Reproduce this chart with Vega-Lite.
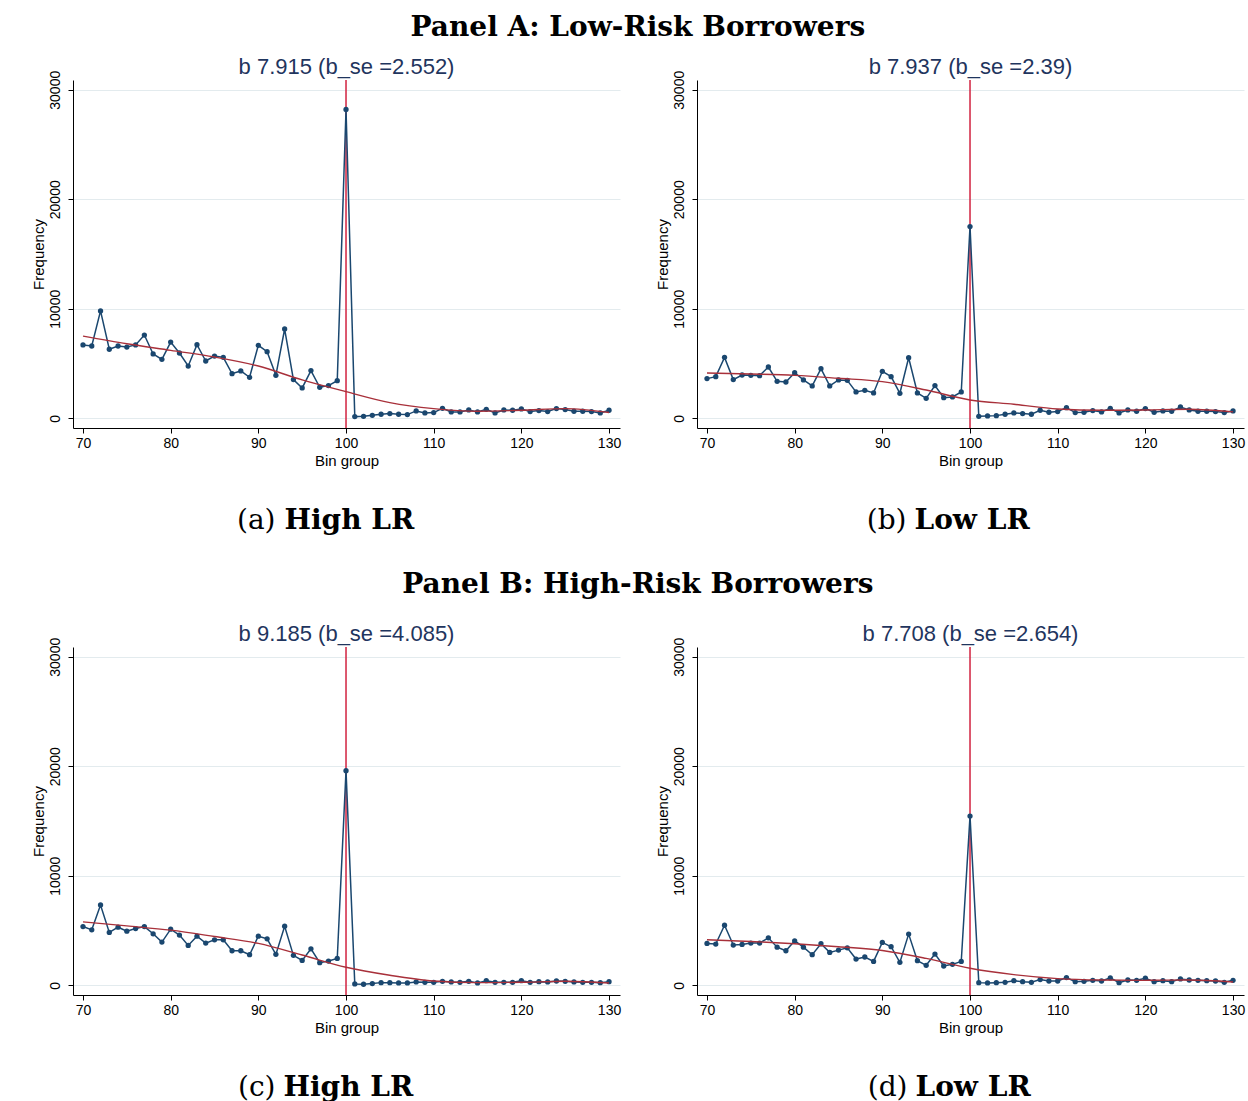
{
  "$schema": "https://vega.github.io/schema/vega-lite/v6.json",
  "background": "white",
  "padding": {"left": 30, "top": 14, "right": 2, "bottom": 0},
  "spacing": 35,
  "datasets": {
    "freq": [
      {"p":"a","bin":70,"freq":6700},{"p":"a","bin":71,"freq":6600},{"p":"a","bin":72,"freq":9800},{"p":"a","bin":73,"freq":6300},{"p":"a","bin":74,"freq":6600},{"p":"a","bin":75,"freq":6500},{"p":"a","bin":76,"freq":6700},{"p":"a","bin":77,"freq":7600},{"p":"a","bin":78,"freq":5870},{"p":"a","bin":79,"freq":5380},{"p":"a","bin":80,"freq":6960},{"p":"a","bin":81,"freq":5960},{"p":"a","bin":82,"freq":4770},{"p":"a","bin":83,"freq":6720},{"p":"a","bin":84,"freq":5230},{"p":"a","bin":85,"freq":5680},{"p":"a","bin":86,"freq":5560},{"p":"a","bin":87,"freq":4070},{"p":"a","bin":88,"freq":4320},{"p":"a","bin":89,"freq":3740},{"p":"a","bin":90,"freq":6660},{"p":"a","bin":91,"freq":6080},{"p":"a","bin":92,"freq":3920},{"p":"a","bin":93,"freq":8150},{"p":"a","bin":94,"freq":3530},{"p":"a","bin":95,"freq":2770},{"p":"a","bin":96,"freq":4350},{"p":"a","bin":97,"freq":2830},{"p":"a","bin":98,"freq":2980},{"p":"a","bin":99,"freq":3430},{"p":"a","bin":100,"freq":28200},{"p":"a","bin":101,"freq":150},{"p":"a","bin":102,"freq":180},{"p":"a","bin":103,"freq":270},{"p":"a","bin":104,"freq":365},{"p":"a","bin":105,"freq":425},{"p":"a","bin":106,"freq":365},{"p":"a","bin":107,"freq":335},{"p":"a","bin":108,"freq":670},{"p":"a","bin":109,"freq":490},{"p":"a","bin":110,"freq":520},{"p":"a","bin":111,"freq":910},{"p":"a","bin":112,"freq":580},{"p":"a","bin":113,"freq":580},{"p":"a","bin":114,"freq":760},{"p":"a","bin":115,"freq":580},{"p":"a","bin":116,"freq":820},{"p":"a","bin":117,"freq":490},{"p":"a","bin":118,"freq":760},{"p":"a","bin":119,"freq":730},{"p":"a","bin":120,"freq":850},{"p":"a","bin":121,"freq":610},{"p":"a","bin":122,"freq":700},{"p":"a","bin":123,"freq":610},{"p":"a","bin":124,"freq":880},{"p":"a","bin":125,"freq":790},{"p":"a","bin":126,"freq":640},{"p":"a","bin":127,"freq":640},{"p":"a","bin":128,"freq":610},{"p":"a","bin":129,"freq":490},{"p":"a","bin":130,"freq":730},
      {"p":"b","bin":70,"freq":3620},{"p":"b","bin":71,"freq":3800},{"p":"b","bin":72,"freq":5560},{"p":"b","bin":73,"freq":3530},{"p":"b","bin":74,"freq":3950},{"p":"b","bin":75,"freq":3920},{"p":"b","bin":76,"freq":3890},{"p":"b","bin":77,"freq":4680},{"p":"b","bin":78,"freq":3370},{"p":"b","bin":79,"freq":3310},{"p":"b","bin":80,"freq":4160},{"p":"b","bin":81,"freq":3500},{"p":"b","bin":82,"freq":2950},{"p":"b","bin":83,"freq":4530},{"p":"b","bin":84,"freq":2950},{"p":"b","bin":85,"freq":3500},{"p":"b","bin":86,"freq":3460},{"p":"b","bin":87,"freq":2400},{"p":"b","bin":88,"freq":2550},{"p":"b","bin":89,"freq":2310},{"p":"b","bin":90,"freq":4290},{"p":"b","bin":91,"freq":3800},{"p":"b","bin":92,"freq":2280},{"p":"b","bin":93,"freq":5530},{"p":"b","bin":94,"freq":2310},{"p":"b","bin":95,"freq":1820},{"p":"b","bin":96,"freq":2980},{"p":"b","bin":97,"freq":1880},{"p":"b","bin":98,"freq":1950},{"p":"b","bin":99,"freq":2400},{"p":"b","bin":100,"freq":17500},{"p":"b","bin":101,"freq":180},{"p":"b","bin":102,"freq":210},{"p":"b","bin":103,"freq":240},{"p":"b","bin":104,"freq":365},{"p":"b","bin":105,"freq":490},{"p":"b","bin":106,"freq":425},{"p":"b","bin":107,"freq":365},{"p":"b","bin":108,"freq":730},{"p":"b","bin":109,"freq":550},{"p":"b","bin":110,"freq":610},{"p":"b","bin":111,"freq":970},{"p":"b","bin":112,"freq":520},{"p":"b","bin":113,"freq":550},{"p":"b","bin":114,"freq":700},{"p":"b","bin":115,"freq":580},{"p":"b","bin":116,"freq":910},{"p":"b","bin":117,"freq":490},{"p":"b","bin":118,"freq":760},{"p":"b","bin":119,"freq":640},{"p":"b","bin":120,"freq":880},{"p":"b","bin":121,"freq":550},{"p":"b","bin":122,"freq":670},{"p":"b","bin":123,"freq":640},{"p":"b","bin":124,"freq":1030},{"p":"b","bin":125,"freq":760},{"p":"b","bin":126,"freq":640},{"p":"b","bin":127,"freq":640},{"p":"b","bin":128,"freq":610},{"p":"b","bin":129,"freq":520},{"p":"b","bin":130,"freq":670},
      {"p":"c","bin":70,"freq":5360},{"p":"c","bin":71,"freq":5060},{"p":"c","bin":72,"freq":7330},{"p":"c","bin":73,"freq":4820},{"p":"c","bin":74,"freq":5300},{"p":"c","bin":75,"freq":4940},{"p":"c","bin":76,"freq":5180},{"p":"c","bin":77,"freq":5360},{"p":"c","bin":78,"freq":4700},{"p":"c","bin":79,"freq":3940},{"p":"c","bin":80,"freq":5120},{"p":"c","bin":81,"freq":4580},{"p":"c","bin":82,"freq":3640},{"p":"c","bin":83,"freq":4480},{"p":"c","bin":84,"freq":3850},{"p":"c","bin":85,"freq":4150},{"p":"c","bin":86,"freq":4150},{"p":"c","bin":87,"freq":3150},{"p":"c","bin":88,"freq":3150},{"p":"c","bin":89,"freq":2790},{"p":"c","bin":90,"freq":4480},{"p":"c","bin":91,"freq":4240},{"p":"c","bin":92,"freq":2820},{"p":"c","bin":93,"freq":5390},{"p":"c","bin":94,"freq":2730},{"p":"c","bin":95,"freq":2270},{"p":"c","bin":96,"freq":3330},{"p":"c","bin":97,"freq":2060},{"p":"c","bin":98,"freq":2210},{"p":"c","bin":99,"freq":2450},{"p":"c","bin":100,"freq":19600},{"p":"c","bin":101,"freq":120},{"p":"c","bin":102,"freq":90},{"p":"c","bin":103,"freq":150},{"p":"c","bin":104,"freq":240},{"p":"c","bin":105,"freq":240},{"p":"c","bin":106,"freq":210},{"p":"c","bin":107,"freq":210},{"p":"c","bin":108,"freq":300},{"p":"c","bin":109,"freq":270},{"p":"c","bin":110,"freq":270},{"p":"c","bin":111,"freq":360},{"p":"c","bin":112,"freq":300},{"p":"c","bin":113,"freq":270},{"p":"c","bin":114,"freq":360},{"p":"c","bin":115,"freq":210},{"p":"c","bin":116,"freq":420},{"p":"c","bin":117,"freq":270},{"p":"c","bin":118,"freq":270},{"p":"c","bin":119,"freq":270},{"p":"c","bin":120,"freq":420},{"p":"c","bin":121,"freq":270},{"p":"c","bin":122,"freq":330},{"p":"c","bin":123,"freq":300},{"p":"c","bin":124,"freq":390},{"p":"c","bin":125,"freq":360},{"p":"c","bin":126,"freq":300},{"p":"c","bin":127,"freq":270},{"p":"c","bin":128,"freq":270},{"p":"c","bin":129,"freq":240},{"p":"c","bin":130,"freq":330},
      {"p":"d","bin":70,"freq":3820},{"p":"d","bin":71,"freq":3760},{"p":"d","bin":72,"freq":5480},{"p":"d","bin":73,"freq":3670},{"p":"d","bin":74,"freq":3730},{"p":"d","bin":75,"freq":3850},{"p":"d","bin":76,"freq":3850},{"p":"d","bin":77,"freq":4330},{"p":"d","bin":78,"freq":3480},{"p":"d","bin":79,"freq":3150},{"p":"d","bin":80,"freq":4060},{"p":"d","bin":81,"freq":3480},{"p":"d","bin":82,"freq":2790},{"p":"d","bin":83,"freq":3790},{"p":"d","bin":84,"freq":3000},{"p":"d","bin":85,"freq":3210},{"p":"d","bin":86,"freq":3420},{"p":"d","bin":87,"freq":2390},{"p":"d","bin":88,"freq":2580},{"p":"d","bin":89,"freq":2180},{"p":"d","bin":90,"freq":3910},{"p":"d","bin":91,"freq":3520},{"p":"d","bin":92,"freq":2090},{"p":"d","bin":93,"freq":4670},{"p":"d","bin":94,"freq":2240},{"p":"d","bin":95,"freq":1820},{"p":"d","bin":96,"freq":2850},{"p":"d","bin":97,"freq":1760},{"p":"d","bin":98,"freq":1910},{"p":"d","bin":99,"freq":2180},{"p":"d","bin":100,"freq":15450},{"p":"d","bin":101,"freq":240},{"p":"d","bin":102,"freq":210},{"p":"d","bin":103,"freq":240},{"p":"d","bin":104,"freq":270},{"p":"d","bin":105,"freq":420},{"p":"d","bin":106,"freq":330},{"p":"d","bin":107,"freq":270},{"p":"d","bin":108,"freq":520},{"p":"d","bin":109,"freq":390},{"p":"d","bin":110,"freq":390},{"p":"d","bin":111,"freq":700},{"p":"d","bin":112,"freq":330},{"p":"d","bin":113,"freq":360},{"p":"d","bin":114,"freq":450},{"p":"d","bin":115,"freq":390},{"p":"d","bin":116,"freq":670},{"p":"d","bin":117,"freq":240},{"p":"d","bin":118,"freq":480},{"p":"d","bin":119,"freq":450},{"p":"d","bin":120,"freq":640},{"p":"d","bin":121,"freq":330},{"p":"d","bin":122,"freq":420},{"p":"d","bin":123,"freq":330},{"p":"d","bin":124,"freq":580},{"p":"d","bin":125,"freq":480},{"p":"d","bin":126,"freq":450},{"p":"d","bin":127,"freq":420},{"p":"d","bin":128,"freq":390},{"p":"d","bin":129,"freq":270},{"p":"d","bin":130,"freq":450}
    ],
    "fit": [
      {"p":"a","bin":70,"fit":7500},{"p":"a","bin":75,"fit":6800},{"p":"a","bin":80,"fit":6200},{"p":"a","bin":85,"fit":5590},{"p":"a","bin":90,"fit":4770},{"p":"a","bin":95,"fit":3500},{"p":"a","bin":100,"fit":2430},{"p":"a","bin":105,"fit":1430},{"p":"a","bin":110,"fit":880},{"p":"a","bin":115,"fit":640},{"p":"a","bin":120,"fit":730},{"p":"a","bin":125,"fit":880},{"p":"a","bin":130,"fit":520},
      {"p":"b","bin":70,"fit":4130},{"p":"b","bin":75,"fit":4040},{"p":"b","bin":80,"fit":3920},{"p":"b","bin":85,"fit":3650},{"p":"b","bin":90,"fit":3340},{"p":"b","bin":95,"fit":2580},{"p":"b","bin":100,"fit":1670},{"p":"b","bin":105,"fit":1280},{"p":"b","bin":110,"fit":850},{"p":"b","bin":115,"fit":730},{"p":"b","bin":120,"fit":760},{"p":"b","bin":125,"fit":820},{"p":"b","bin":130,"fit":580},
      {"p":"c","bin":70,"fit":5790},{"p":"c","bin":75,"fit":5420},{"p":"c","bin":80,"fit":5030},{"p":"c","bin":85,"fit":4450},{"p":"c","bin":90,"fit":3820},{"p":"c","bin":95,"fit":2760},{"p":"c","bin":100,"fit":1640},{"p":"c","bin":105,"fit":910},{"p":"c","bin":110,"fit":390},{"p":"c","bin":115,"fit":240},{"p":"c","bin":120,"fit":270},{"p":"c","bin":125,"fit":360},{"p":"c","bin":130,"fit":210},
      {"p":"d","bin":70,"fit":4150},{"p":"d","bin":75,"fit":4000},{"p":"d","bin":80,"fit":3790},{"p":"d","bin":85,"fit":3520},{"p":"d","bin":90,"fit":3180},{"p":"d","bin":95,"fit":2450},{"p":"d","bin":100,"fit":1550},{"p":"d","bin":105,"fit":970},{"p":"d","bin":110,"fit":610},{"p":"d","bin":115,"fit":480},{"p":"d","bin":120,"fit":450},{"p":"d","bin":125,"fit":480},{"p":"d","bin":130,"fit":300}
    ],
    "cut": [{"cutoff": 100}]
  },
  "vconcat": [
    {
      "title": {"text": "Panel A: Low-Risk Borrowers", "font": "DejaVu Serif", "fontSize": 28, "fontWeight": "bold", "color": "#000000", "anchor": "middle", "offset": 14},
      "spacing": 33,
      "hconcat": [
        {
          "spacing": 38,
          "vconcat": [
            {
              "width": 547, "height": 348,
              "title": {"text": "b 7.915 (b_se =2.552)"},
              "layer": [
                {"data": {"name": "cut"}, "mark": {"type": "rule", "color": "#d1223f", "strokeWidth": 1.5}, "encoding": {"x": {"field": "cutoff", "type": "quantitative", "scale": {"domain": [68.86, 131.25], "nice": false, "zero": false}, "axis": {"title": "Bin group", "values": [70, 80, 90, 100, 110, 120, 130], "format": "d"}}}},
                {"data": {"name": "freq"}, "transform": [{"filter": "datum.p === 'a'"}], "mark": {"type": "line", "color": "#1a476f", "strokeWidth": 1.5, "point": {"filled": true, "size": 28, "color": "#1a476f"}}, "encoding": {"x": {"field": "bin", "type": "quantitative"}, "y": {"field": "freq", "type": "quantitative", "scale": {"domain": [-890, 30890], "nice": false, "zero": false}, "axis": {"title": "Frequency", "values": [0, 10000, 20000, 30000], "format": "d"}}}},
                {"data": {"name": "fit"}, "transform": [{"filter": "datum.p === 'a'"}], "mark": {"type": "line", "color": "#a8303a", "strokeWidth": 1.4, "interpolate": "monotone"}, "encoding": {"x": {"field": "bin", "type": "quantitative"}, "y": {"field": "fit", "type": "quantitative"}}}
              ]
            },
            {
              "width": 547, "height": 30,
              "data": {"values": [{"lab": "(a)", "name": "High LR"}]},
              "layer": [
                {"mark": {"type": "text", "font": "DejaVu Serif", "fontSize": 28, "align": "right", "dx": -71, "color": "#000000"}, "encoding": {"text": {"field": "lab"}}},
                {"mark": {"type": "text", "font": "DejaVu Serif", "fontSize": 28, "fontWeight": "bold", "align": "left", "dx": -62, "color": "#000000"}, "encoding": {"text": {"field": "name"}}}
              ]
            }
          ]
        },
        {
          "spacing": 38,
          "vconcat": [
            {
              "width": 547, "height": 348,
              "title": {"text": "b 7.937 (b_se =2.39)"},
              "layer": [
                {"data": {"name": "cut"}, "mark": {"type": "rule", "color": "#d1223f", "strokeWidth": 1.5}, "encoding": {"x": {"field": "cutoff", "type": "quantitative", "scale": {"domain": [68.86, 131.25], "nice": false, "zero": false}, "axis": {"title": "Bin group", "values": [70, 80, 90, 100, 110, 120, 130], "format": "d"}}}},
                {"data": {"name": "freq"}, "transform": [{"filter": "datum.p === 'b'"}], "mark": {"type": "line", "color": "#1a476f", "strokeWidth": 1.5, "point": {"filled": true, "size": 28, "color": "#1a476f"}}, "encoding": {"x": {"field": "bin", "type": "quantitative"}, "y": {"field": "freq", "type": "quantitative", "scale": {"domain": [-890, 30890], "nice": false, "zero": false}, "axis": {"title": "Frequency", "values": [0, 10000, 20000, 30000], "format": "d"}}}},
                {"data": {"name": "fit"}, "transform": [{"filter": "datum.p === 'b'"}], "mark": {"type": "line", "color": "#a8303a", "strokeWidth": 1.4, "interpolate": "monotone"}, "encoding": {"x": {"field": "bin", "type": "quantitative"}, "y": {"field": "fit", "type": "quantitative"}}}
              ]
            },
            {
              "width": 547, "height": 30,
              "data": {"values": [{"lab": "(b)", "name": "Low LR"}]},
              "layer": [
                {"mark": {"type": "text", "font": "DejaVu Serif", "fontSize": 28, "align": "right", "dx": -64, "color": "#000000"}, "encoding": {"text": {"field": "lab"}}},
                {"mark": {"type": "text", "font": "DejaVu Serif", "fontSize": 28, "fontWeight": "bold", "align": "left", "dx": -56, "color": "#000000"}, "encoding": {"text": {"field": "name"}}}
              ]
            }
          ]
        }
      ]
    },
    {
      "title": {"text": "Panel B: High-Risk Borrowers", "font": "DejaVu Serif", "fontSize": 28, "fontWeight": "bold", "color": "#000000", "anchor": "middle", "offset": 24},
      "spacing": 33,
      "hconcat": [
        {
          "spacing": 38,
          "vconcat": [
            {
              "width": 547, "height": 348,
              "title": {"text": "b 9.185 (b_se =4.085)"},
              "layer": [
                {"data": {"name": "cut"}, "mark": {"type": "rule", "color": "#d1223f", "strokeWidth": 1.5}, "encoding": {"x": {"field": "cutoff", "type": "quantitative", "scale": {"domain": [68.86, 131.25], "nice": false, "zero": false}, "axis": {"title": "Bin group", "values": [70, 80, 90, 100, 110, 120, 130], "format": "d"}}}},
                {"data": {"name": "freq"}, "transform": [{"filter": "datum.p === 'c'"}], "mark": {"type": "line", "color": "#1a476f", "strokeWidth": 1.5, "point": {"filled": true, "size": 28, "color": "#1a476f"}}, "encoding": {"x": {"field": "bin", "type": "quantitative"}, "y": {"field": "freq", "type": "quantitative", "scale": {"domain": [-890, 30890], "nice": false, "zero": false}, "axis": {"title": "Frequency", "values": [0, 10000, 20000, 30000], "format": "d"}}}},
                {"data": {"name": "fit"}, "transform": [{"filter": "datum.p === 'c'"}], "mark": {"type": "line", "color": "#a8303a", "strokeWidth": 1.4, "interpolate": "monotone"}, "encoding": {"x": {"field": "bin", "type": "quantitative"}, "y": {"field": "fit", "type": "quantitative"}}}
              ]
            },
            {
              "width": 547, "height": 30,
              "data": {"values": [{"lab": "(c)", "name": "High LR"}]},
              "layer": [
                {"mark": {"type": "text", "font": "DejaVu Serif", "fontSize": 28, "align": "right", "dx": -71, "color": "#000000"}, "encoding": {"text": {"field": "lab"}}},
                {"mark": {"type": "text", "font": "DejaVu Serif", "fontSize": 28, "fontWeight": "bold", "align": "left", "dx": -63, "color": "#000000"}, "encoding": {"text": {"field": "name"}}}
              ]
            }
          ]
        },
        {
          "spacing": 38,
          "vconcat": [
            {
              "width": 547, "height": 348,
              "title": {"text": "b 7.708 (b_se =2.654)"},
              "layer": [
                {"data": {"name": "cut"}, "mark": {"type": "rule", "color": "#d1223f", "strokeWidth": 1.5}, "encoding": {"x": {"field": "cutoff", "type": "quantitative", "scale": {"domain": [68.86, 131.25], "nice": false, "zero": false}, "axis": {"title": "Bin group", "values": [70, 80, 90, 100, 110, 120, 130], "format": "d"}}}},
                {"data": {"name": "freq"}, "transform": [{"filter": "datum.p === 'd'"}], "mark": {"type": "line", "color": "#1a476f", "strokeWidth": 1.5, "point": {"filled": true, "size": 28, "color": "#1a476f"}}, "encoding": {"x": {"field": "bin", "type": "quantitative"}, "y": {"field": "freq", "type": "quantitative", "scale": {"domain": [-890, 30890], "nice": false, "zero": false}, "axis": {"title": "Frequency", "values": [0, 10000, 20000, 30000], "format": "d"}}}},
                {"data": {"name": "fit"}, "transform": [{"filter": "datum.p === 'd'"}], "mark": {"type": "line", "color": "#a8303a", "strokeWidth": 1.4, "interpolate": "monotone"}, "encoding": {"x": {"field": "bin", "type": "quantitative"}, "y": {"field": "fit", "type": "quantitative"}}}
              ]
            },
            {
              "width": 547, "height": 30,
              "data": {"values": [{"lab": "(d)", "name": "Low LR"}]},
              "layer": [
                {"mark": {"type": "text", "font": "DejaVu Serif", "fontSize": 28, "align": "right", "dx": -63, "color": "#000000"}, "encoding": {"text": {"field": "lab"}}},
                {"mark": {"type": "text", "font": "DejaVu Serif", "fontSize": 28, "fontWeight": "bold", "align": "left", "dx": -55, "color": "#000000"}, "encoding": {"text": {"field": "name"}}}
              ]
            }
          ]
        }
      ]
    }
  ],
  "config": {
    "view": {"stroke": null},
    "font": "Liberation Sans",
    "title": {"font": "Liberation Sans", "fontSize": 22, "fontWeight": "normal", "color": "#1f355e", "offset": -9},
    "axis": {
      "labelFont": "Liberation Sans", "labelFontSize": 14, "labelColor": "#000000",
      "titleFont": "Liberation Sans", "titleFontSize": 15, "titleFontWeight": "normal", "titleColor": "#000000",
      "domainColor": "#000000", "tickColor": "#000000", "tickSize": 5, "domainWidth": 1, "tickWidth": 1,
      "labelPadding": 3, "titlePadding": 3, "gridColor": "#e3ebee", "gridWidth": 1
    },
    "axisX": {"grid": false},
    "axisY": {"grid": true, "labelAngle": -90, "labelAlign": "center", "labelBaseline": "bottom", "labelPadding": 6, "titlePadding": 2}
  }
}
